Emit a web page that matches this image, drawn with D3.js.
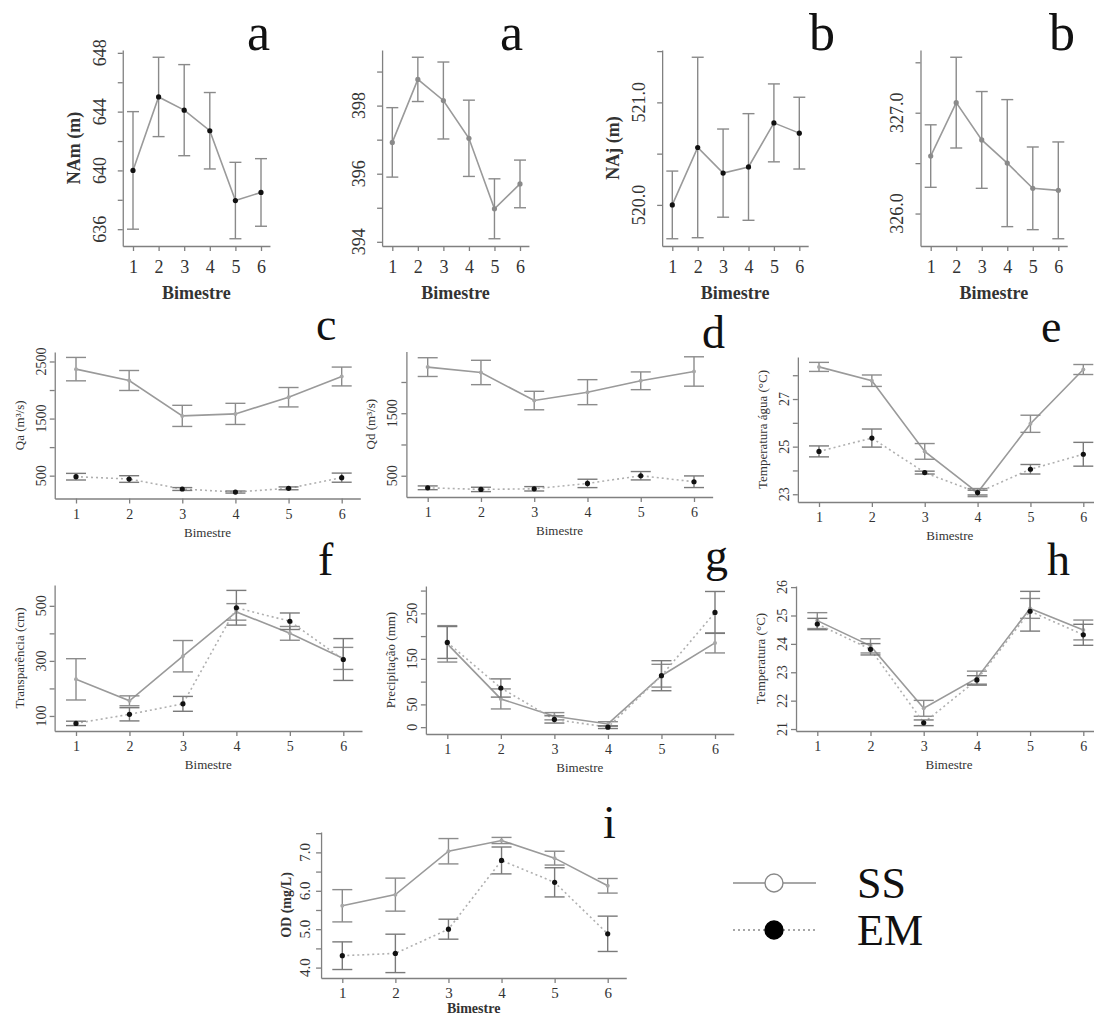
<!DOCTYPE html>
<html>
<head>
<meta charset="utf-8">
<script src="https://cdn.jsdelivr.net/npm/d3@7"></script>
<style>
  body { margin: 0; background: #fff; }
  svg { display: block; font-family: "Liberation Serif", "Times New Roman", serif; }
</style>
</head>
<body>
<svg id="chart" width="1094" height="1019"></svg>
<script>
// bimestre categories
const bimestres = [1, 2, 3, 4, 5, 6];

// top row: water levels (mean and half error bar)
const nam1Mean = [640.0, 645.0, 644.1, 642.7, 637.95, 638.5];
const nam1Err  = [4.0, 2.7, 3.1, 2.6, 2.6, 2.3];
const nam2Mean = [396.92, 398.77, 398.15, 397.04, 394.97, 395.70];
const nam2Err  = [1.02, 0.65, 1.13, 1.12, 0.88, 0.70];
const naj1Mean = [520.0, 520.56, 520.31, 520.37, 520.80, 520.70];
const naj1Err  = [0.33, 0.88, 0.43, 0.52, 0.38, 0.35];
const naj2Mean = [326.57, 327.10, 326.73, 326.50, 326.25, 326.23];
const naj2Err  = [0.31, 0.45, 0.48, 0.63, 0.41, 0.48];

// c - Qa
const qaSS = [2366, 2167, 1547, 1582, 1874, 2237];
const qaSSErr = [205, 175, 185, 185, 170, 165];
const qaEM = [482, 441, 266, 213, 278, 465];
const qaEMErr = [58, 58, 25, 18, 25, 80];
// d - Qd
const qdSS = [2238, 2152, 1703, 1837, 2019, 2168];
const qdSSErr = [150, 195, 148, 200, 142, 235];
const qdEM = [307, 281, 291, 377, 500, 404];
const qdEMErr = [30, 35, 35, 67, 67, 93];
// e - water temperature
const tAguaSS = [28.35, 27.77, 24.80, 23.07, 25.96, 28.24];
const tAguaSSErr = [0.19, 0.24, 0.33, 0.17, 0.36, 0.21];
const tAguaEM = [24.80, 25.36, 23.91, 23.07, 24.05, 24.68];
const tAguaEMErr = [0.23, 0.38, 0.06, 0.10, 0.20, 0.50];
// f - transparency
const transpSS = [233, 155, 317, 478, 400, 309];
const transpSSErr = [75, 18, 57, 30, 25, 40];
const transpEM = [73, 106, 144, 493, 444, 305];
const transpEMErr = [8, 24, 27, 63, 30, 76];
// g - precipitation
const precSS = [183, 62, 24, 7, 113, 185];
const precSSErr = [40, 22, 8, 5, 25, 22];
const precEM = [186, 86, 17, 0, 113, 252];
const precEMErr = [35, 20, 8, 3, 33, 46];
// h - air temperature
const tArSS = [24.82, 23.93, 21.73, 22.79, 25.25, 24.49];
const tArSSErr = [0.28, 0.25, 0.28, 0.25, 0.35, 0.35];
const tArEM = [24.70, 23.81, 21.22, 22.73, 25.15, 24.32];
const tArEMErr = [0.20, 0.20, 0.10, 0.15, 0.70, 0.37];
// i - dissolved oxygen
const odSS = [5.61, 5.90, 7.03, 7.31, 6.85, 6.13];
const odSSErr = [0.42, 0.43, 0.33, 0.08, 0.18, 0.19];
const odEM = [4.31, 4.37, 5.00, 6.79, 6.22, 4.88];
const odEMErr = [0.36, 0.50, 0.26, 0.35, 0.38, 0.46];

const svg = d3.select("#chart");

// text/marker settings per row type
const styles = {
  big:   { tickFs: 18, xLab: 27, titleFs: 18, xTitle: 53, yTick: 17, yTitle: 43, cap: 6,  letterFs: 52 },
  small: { tickFs: 14, xLab: 20, titleFs: 13, xTitle: 38, yTick: 9,  yTitle: 31, cap: 10, letterFs: 46 },
  med:   { tickFs: 15, xLab: 20, titleFs: 14, xTitle: 35, yTick: 11, yTitle: 30, cap: 10, letterFs: 46 }
};

const SS = (m, e) => ({ mean: m, err: e, line: "#9a9a9a", dash: null, bar: "#8c8c8c", dot: "#a8a8a8", r: 2 });
const EM = (m, e) => ({ mean: m, err: e, line: "#b0b0b0", dash: "2,3", bar: "#7a7a7a", dot: "#111", r: 2.6 });
const single = (m, e, dot) => ({ mean: m, err: e, line: "#9a9a9a", dash: null, bar: "#8a8a8a", dot: dot, r: 2.6 });

const panels = [
  { st: "big", x1: 133, x6: 261, top: 50, bottom: 246, title: "NAm (m)",
    ticks: d3.range(636, 649, 2), labels: [636, 640, 644, 648], fmt: d3.format("d"),
    letter: "a", lx: 247, ly: 50, series: [single(nam1Mean, nam1Err, "#111")] },
  { st: "big", x1: 392.3, x6: 520, top: 50, bottom: 246, title: "",
    ticks: d3.range(394, 400, 1), labels: [394, 396, 398], fmt: d3.format("d"),
    letter: "a", lx: 500, ly: 50, series: [single(nam2Mean, nam2Err, "#8a8a8a")] },
  { st: "big", x1: 672.3, x6: 799.3, top: 50, bottom: 246, title: "NAj (m)",
    ticks: [520, 520.5, 521, 521.5], labels: [520, 521], fmt: d3.format(".1f"),
    letter: "b", lx: 809, ly: 50, series: [single(naj1Mean, naj1Err, "#111")] },
  { st: "big", x1: 930.7, x6: 1058.3, top: 50, bottom: 246, title: "",
    ticks: [326, 326.5, 327, 327.5], labels: [326, 327], fmt: d3.format(".1f"),
    letter: "b", lx: 1049, ly: 50, series: [single(naj2Mean, naj2Err, "#8a8a8a")] },

  { st: "small", x1: 76, x6: 341.7, top: 352, bottom: 498.5, title: "Qa (m³/s)",
    ticks: [500, 1000, 1500, 2000, 2500], labels: [500, 1500, 2500], fmt: d3.format("d"),
    letter: "c", lx: 316, ly: 340, series: [SS(qaSS, qaSSErr), EM(qaEM, qaEMErr)] },
  { st: "small", x1: 427.7, x6: 694, top: 351.4, bottom: 497, title: "Qd (m³/s)",
    ticks: [500, 1000, 1500, 2000], labels: [500, 1500], fmt: d3.format("d"),
    letter: "d", lx: 702, ly: 348, series: [SS(qdSS, qdSSErr), EM(qdEM, qdEMErr)] },
  { st: "small", x1: 819, x6: 1083.3, top: 357, bottom: 502, title: "Temperatura água (°C)",
    ticks: [23, 24, 25, 26, 27, 28], labels: [23, 25, 27], fmt: d3.format("d"),
    letter: "e", lx: 1041, ly: 342, series: [SS(tAguaSS, tAguaSSErr), EM(tAguaEM, tAguaEMErr)] },

  { st: "small", x1: 76, x6: 343.3, top: 585, bottom: 731, title: "Transparência (cm)",
    ticks: [100, 200, 300, 400, 500], labels: [100, 300, 500], fmt: d3.format("d"),
    letter: "f", lx: 318, ly: 575, series: [SS(transpSS, transpSSErr), EM(transpEM, transpEMErr)] },
  { st: "small", x1: 447.3, x6: 715, top: 586, bottom: 734, title: "Precipitação (mm)",
    ticks: [0, 50, 100, 150, 200, 250, 300], labels: [0, 50, 150, 250], fmt: d3.format("d"),
    letter: "g", lx: 705, ly: 571, series: [SS(precSS, precSSErr), EM(precEM, precEMErr)] },
  { st: "small", x1: 817.3, x6: 1083.3, top: 586, bottom: 731, title: "Temperatura (°C)",
    ticks: [21, 22, 23, 24, 25, 26], labels: [21, 22, 23, 24, 25, 26], fmt: d3.format("d"),
    letter: "h", lx: 1047, ly: 575, series: [SS(tArSS, tArSSErr), EM(tArEM, tArEMErr)] },

  { st: "med", x1: 342.3, x6: 607.7, top: 832, bottom: 978, title: "OD (mg/L)",
    ticks: [4, 4.5, 5, 5.5, 6, 6.5, 7, 7.5], labels: [4, 5, 6, 7], fmt: d3.format(".1f"),
    letter: "i", lx: 603, ly: 838, series: [SS(odSS, odSSErr), EM(odEM, odEMErr)] }
];

function drawPanel(p) {
  const st = styles[p.st];
  const x = d3.scaleLinear().domain([1, 6]).range([p.x1, p.x6]);
  const x0 = x(0.6), xEnd = x(6.35);

  // R-style y range: data extent (with error bars) padded by 4%
  const lo = d3.min(p.series, s => d3.min(s.mean, (m, i) => m - s.err[i]));
  const hi = d3.max(p.series, s => d3.max(s.mean, (m, i) => m + s.err[i]));
  const pad = (hi - lo) * 0.04;
  const y = d3.scaleLinear().domain([lo - pad, hi + pad]).range([p.bottom, p.top]);

  const g = svg.append("g");

  // x axis
  const xa = d3.scaleLinear().domain([0.6, 6.35]).range([x0, xEnd]);
  const gx = g.append("g")
    .attr("transform", "translate(0," + p.bottom + ")")
    .call(d3.axisBottom(xa).tickValues(bimestres).tickSize(5).tickSizeOuter(0).tickFormat(d3.format("d")));
  gx.selectAll("text")
    .attr("y", st.xLab).attr("dy", null)
    .style("font-size", st.tickFs + "px")
    .style("font-family", "Liberation Serif")
    .style("fill", "#333");

  // y axis (ticks only, labels drawn rotated below)
  g.append("g")
    .attr("transform", "translate(" + x0 + ",0)")
    .call(d3.axisLeft(y).tickValues(p.ticks).tickSize(5).tickSizeOuter(0).tickFormat(""));

  g.selectAll("path.domain, .tick line").attr("stroke", "#808080").attr("stroke-width", 1.3);

  g.selectAll(".ylab")
    .data(p.labels)
    .join("text")
    .attr("class", "ylab")
    .attr("transform", d => "translate(" + (x0 - st.yTick) + "," + y(d) + ") rotate(-90)")
    .attr("text-anchor", "middle")
    .style("font-size", st.tickFs + "px")
    .style("fill", "#333")
    .text(p.fmt);

  // titles
  g.append("text")
    .attr("x", (x0 + xEnd) / 2)
    .attr("y", p.bottom + st.xTitle)
    .attr("text-anchor", "middle")
    .style("font-size", st.titleFs + "px")
    .style("font-weight", p.st === "small" ? "normal" : "bold")
    .style("fill", "#333")
    .text("Bimestre");

  if (p.title) {
    g.append("text")
      .attr("transform", "translate(" + (x0 - st.yTitle) + "," + ((p.top + p.bottom) / 2) + ") rotate(-90)")
      .attr("text-anchor", "middle")
      .style("font-size", st.titleFs + "px")
      .style("font-weight", p.st === "small" ? "normal" : "bold")
      .style("fill", "#333")
      .text(p.title);
  }

  // panel letter
  g.append("text")
    .attr("x", p.lx).attr("y", p.ly)
    .style("font-size", st.letterFs + "px")
    .style("fill", "#111")
    .text(p.letter);

  // series
  p.series.forEach(s => {
    const pts = bimestres.map((b, i) => ({ b: b, m: s.mean[i], e: s.err[i] }));

    g.append("path")
      .datum(pts)
      .attr("fill", "none")
      .attr("stroke", s.line)
      .attr("stroke-width", 1.6)
      .attr("stroke-dasharray", s.dash)
      .attr("d", d3.line().x(d => x(d.b)).y(d => y(d.m)));

    const eb = g.append("g").attr("stroke", s.bar).attr("stroke-width", 1.4);
    eb.selectAll(".v").data(pts).join("line")
      .attr("x1", d => x(d.b)).attr("x2", d => x(d.b))
      .attr("y1", d => y(d.m - d.e)).attr("y2", d => y(d.m + d.e));
    eb.selectAll(".ct").data(pts).join("line")
      .attr("x1", d => x(d.b) - st.cap).attr("x2", d => x(d.b) + st.cap)
      .attr("y1", d => y(d.m + d.e)).attr("y2", d => y(d.m + d.e));
    eb.selectAll(".cb").data(pts).join("line")
      .attr("x1", d => x(d.b) - st.cap).attr("x2", d => x(d.b) + st.cap)
      .attr("y1", d => y(d.m - d.e)).attr("y2", d => y(d.m - d.e));

    g.selectAll(null).data(pts).join("circle")
      .attr("cx", d => x(d.b)).attr("cy", d => y(d.m))
      .attr("r", s.r)
      .attr("fill", s.dot);
  });
}

panels.forEach(drawPanel);

// legend
const legend = [
  { label: "SS", dash: null, fill: "#fff", stroke: "#8a8a8a", y: 883 },
  { label: "EM", dash: "2,3", fill: "#000", stroke: "#000", y: 930 }
];
const lg = svg.append("g");
legend.forEach(l => {
  lg.append("line")
    .attr("x1", 733).attr("x2", 816).attr("y1", l.y).attr("y2", l.y)
    .attr("stroke", "#8a8a8a").attr("stroke-width", 1.4)
    .attr("stroke-dasharray", l.dash);
  lg.append("circle")
    .attr("cx", 774).attr("cy", l.y).attr("r", 9)
    .attr("fill", l.fill).attr("stroke", l.stroke).attr("stroke-width", 1.4);
  lg.append("text")
    .attr("x", 857).attr("y", l.y + 15)
    .style("font-size", "44px")
    .style("fill", "#111")
    .text(l.label);
});
</script>
</body>
</html>
